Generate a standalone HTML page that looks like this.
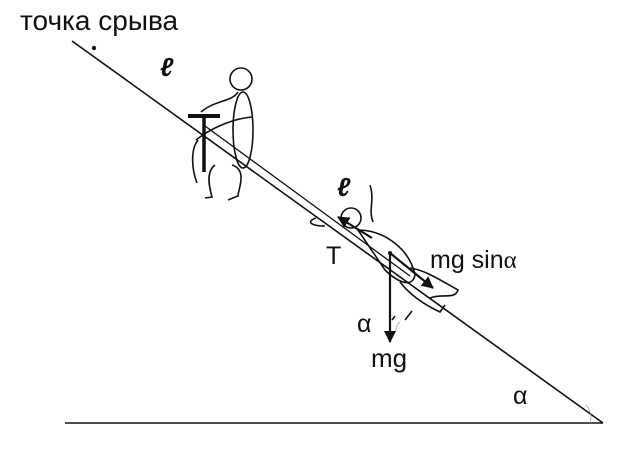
<!DOCTYPE html>
<html><head><meta charset="utf-8"><style>
html,body{margin:0;padding:0;background:#fff;width:638px;height:461px;overflow:hidden}
svg{display:block}
text{font-family:"Liberation Sans",sans-serif;fill:#111}
</style></head><body>
<svg width="638" height="461" viewBox="0 0 638 461" xmlns="http://www.w3.org/2000/svg">
<defs><marker id="ah" markerWidth="12" markerHeight="12" refX="11" refY="6" orient="auto" markerUnits="userSpaceOnUse"><path d="M0,0 L12,6 L0,12 Z" fill="#111"/></marker></defs>
<text x="20" y="30" font-size="28">точка срыва</text>
<circle cx="94" cy="48" r="2.2" fill="#111"/>
<text x="160" y="76" font-size="26" font-style="italic" font-weight="bold" font-family="Liberation Serif">ℓ</text>
<g stroke="#111" fill="none" stroke-width="1.6">
<line x1="72" y1="41" x2="603" y2="423"/>
<line x1="65" y1="423" x2="603" y2="423"/>
<path d="M590 423 A18 18 0 0 0 586 405" stroke-width="0.8" stroke="#999"/>
<!-- sitting man -->
<circle cx="241" cy="79" r="11"/>
<ellipse cx="243" cy="130" rx="10" ry="38"/>
<line x1="188" y1="116" x2="220" y2="116" stroke-width="4"/>
<line x1="204" y1="117" x2="204" y2="172" stroke-width="3.5"/>
<path d="M201 112 C215 100 232 102 238 92"/>
<path d="M196 140 C215 125 238 118 252 117"/>
<path d="M198 140 C190 150 192 170 197 183"/>
<path d="M215 165 C205 172 210 190 212 197 L205 198"/>
<path d="M232 165 C248 170 238 190 238 196 L228 200"/>
<line x1="205" y1="126" x2="410" y2="276" stroke-width="1.3"/>
<!-- sliding man -->
<circle cx="351" cy="218" r="10"/>
<path d="M370 185 C375 200 368 210 373 222"/>
<path d="M358 230 C385 230 410 250 415 275 C412 290 395 280 385 270 Z"/>
<path d="M316 218 C305 222 312 226 325 226"/>
<path d="M410 268 C425 270 440 280 458 290 C455 300 442 293 430 298"/>
<path d="M400 282 C410 295 425 305 440 312 L445 305"/>
<line x1="392" y1="320" x2="395" y2="316"/>
<line x1="405" y1="320" x2="412" y2="311"/>
<path d="M396 331 A10 10 0 0 1 400 322" stroke="#aaa" stroke-width="0.8"/>
</g>
<g stroke="#111" stroke-width="2.2" fill="none">
<line x1="390" y1="253" x2="390" y2="342" marker-end="url(#ah)"/>
<line x1="390" y1="253" x2="433" y2="288" marker-end="url(#ah)"/>
<line x1="372" y1="238" x2="338" y2="217" marker-end="url(#ah)"/>
</g>
<circle cx="390" cy="253" r="2" fill="#111"/>
<text x="337" y="196" font-size="26" font-style="italic" font-weight="bold" font-family="Liberation Serif">ℓ</text>
<text x="326" y="264" font-size="25">T</text>
<text x="430" y="268" font-size="25">mg sin<tspan font-family="Liberation Serif">α</tspan></text>
<text x="357" y="332" font-size="25" font-family="Liberation Serif">α</text>
<text x="371" y="367" font-size="26">mg</text>
<text x="513" y="404" font-size="25" font-family="Liberation Serif">α</text>
</svg>
</body></html>
